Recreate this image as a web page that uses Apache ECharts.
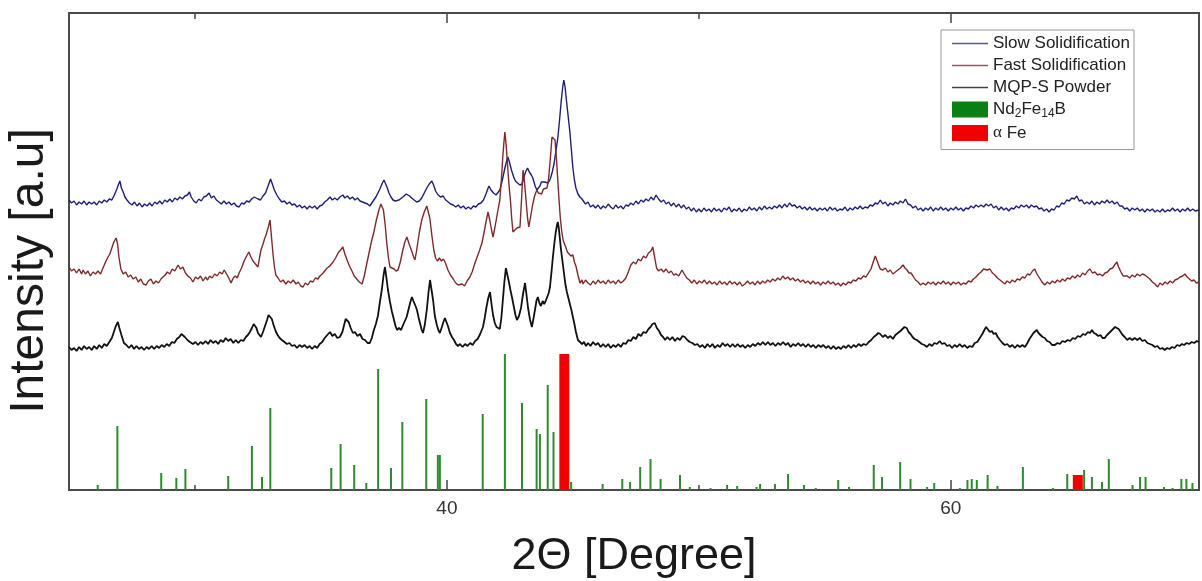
<!DOCTYPE html>
<html>
<head>
<meta charset="utf-8">
<script src="https://cdn.jsdelivr.net/npm/echarts@6/dist/echarts.min.js"></script>
<style>
html,body{margin:0;padding:0;background:#fff;}
#chart{width:1202px;height:581px;}
</style>
</head>
<body>
<div id="chart"></div>
<script>
// ---- axis range and tick values (2θ, degree) ----
const xMin = 25, xMax = 69.85;
const yMin = 0, yMax = 477;
const majorTicks = [40, 60];
const minorTicks = [30, 50];

// ---- series names ----
const seriesNames = ['Slow Solidification', 'Fast Solidification', 'MQP-S Powder', 'Nd2Fe14B', 'α Fe'];

// ---- Slow Solidification (offset pattern, a.u.) ----
const slowData = [
[25.0,290],[25.1,287],[25.2,289],[25.3,285],[25.4,288],[25.5,286],[25.6,289],[25.7,285],[25.8,288],[25.9,286],[26.0,288],[26.1,285],[26.2,289],[26.3,287],[26.4,290],[26.5,288],[26.6,291],[26.7,290],[26.8,295],[26.9,301],[26.97,306],[27.02,309],[27.08,302],[27.15,298],[27.22,293],[27.3,290],[27.4,287],[27.5,285],[27.6,288],[27.7,284],[27.8,287],[27.9,283],[28.0,286],[28.1,284],[28.2,287],[28.3,284],[28.4,288],[28.5,286],[28.6,289],[28.7,286],[28.8,290],[28.9,288],[29.0,291],[29.1,288],[29.2,292],[29.3,290],[29.4,293],[29.5,291],[29.6,294],[29.7,295],[29.78,298],[29.85,293],[29.95,289],[30.05,287],[30.15,291],[30.25,289],[30.35,293],[30.45,294],[30.56,297],[30.65,292],[30.75,294],[30.85,290],[30.95,288],[31.05,286],[31.15,289],[31.25,286],[31.35,288],[31.45,285],[31.55,287],[31.65,284],[31.75,283],[31.85,287],[31.95,286],[32.05,289],[32.15,288],[32.25,291],[32.35,293],[32.42,295],[32.5,291],[32.6,290],[32.7,294],[32.8,297],[32.9,304],[33.0,311],[33.07,306],[33.15,300],[33.25,295],[33.35,291],[33.45,288],[33.55,289],[33.65,286],[33.75,288],[33.85,285],[33.95,286],[34.05,283],[34.15,285],[34.25,282],[34.35,284],[34.45,281],[34.55,284],[34.65,282],[34.75,284],[34.85,281],[34.95,284],[35.05,285],[35.15,288],[35.25,290],[35.36,293],[35.45,290],[35.55,292],[35.65,290],[35.75,293],[35.87,295],[35.95,292],[36.05,294],[36.15,291],[36.25,293],[36.35,290],[36.45,292],[36.55,289],[36.65,288],[36.75,287],[36.85,286],[36.94,284],[37.02,287],[37.1,290],[37.18,293],[37.26,297],[37.34,301],[37.42,306],[37.5,310],[37.56,309],[37.62,303],[37.7,297],[37.78,293],[37.86,290],[37.95,289],[38.02,287],[38.1,290],[38.2,292],[38.3,294],[38.38,296],[38.45,298],[38.52,294],[38.6,292],[38.7,290],[38.8,288],[38.9,289],[39.0,292],[39.1,297],[39.2,302],[39.3,306],[39.4,309],[39.47,305],[39.55,299],[39.65,295],[39.75,293],[39.85,294],[39.95,290],[40.05,288],[40.15,286],[40.25,285],[40.35,283],[40.45,285],[40.55,282],[40.65,284],[40.75,281],[40.85,283],[40.95,281],[41.05,284],[41.15,283],[41.25,286],[41.35,287],[41.45,290],[41.55,296],[41.62,301],[41.67,304],[41.75,300],[41.85,297],[41.95,295],[42.02,294],[42.1,300],[42.2,310],[42.3,322],[42.38,330],[42.42,333],[42.48,328],[42.56,320],[42.65,313],[42.72,309],[42.8,307],[42.9,305],[42.98,306],[43.05,312],[43.12,318],[43.2,322],[43.27,318],[43.35,315],[43.41,312],[43.5,304],[43.57,300],[43.63,302],[43.69,304],[43.75,308],[43.81,310],[43.88,308],[43.95,306],[44.02,307],[44.1,311],[44.18,318],[44.25,326],[44.32,338],[44.40,352],[44.47,370],[44.54,390],[44.6,404],[44.64,410],[44.69,403],[44.75,388],[44.82,372],[44.88,358],[44.94,340],[45.0,322],[45.06,310],[45.12,302],[45.2,296],[45.28,293],[45.36,291],
[45.4,290],[45.5,286],[45.6,288],[45.7,283],[45.8,285],[45.9,282],[46.0,285],[46.1,281],[46.2,284],[46.3,282],[46.4,286],[46.5,283],[46.6,281],[46.7,285],[46.8,282],[46.9,284],[47.0,281],[47.1,285],[47.2,284],[47.3,287],[47.4,285],[47.5,289],[47.6,286],[47.7,290],[47.8,288],[47.9,291],[48.0,289],[48.1,293],[48.2,290],[48.3,295],[48.4,291],[48.5,288],[48.6,290],[48.7,286],[48.8,288],[48.9,284],[49.0,287],[49.1,283],[49.2,286],[49.3,282],[49.4,285],[49.5,281],[49.6,283],[49.7,279],[49.8,282],[49.9,278],[50.0,281],[50.1,278],[50.2,282],[50.3,279],[50.4,281],[50.5,278],[50.6,282],[50.7,279],[50.8,281],[50.9,278],[51.0,282],[51.1,280],[51.2,283],[51.3,278],[51.4,281],[51.5,279],[51.6,282],[51.7,278],[51.8,281],[51.9,279],[52.0,283],[52.1,280],[52.2,282],[52.3,279],[52.4,283],[52.5,280],[52.6,284],[52.7,281],[52.8,283],[52.9,281],[53.0,284],[53.1,282],[53.2,285],[53.3,282],[53.4,286],[53.5,283],[53.6,287],[53.7,284],[53.8,285],[53.9,282],[54.0,284],[54.1,281],[54.2,283],[54.3,280],[54.4,283],[54.5,280],[54.6,282],[54.7,279],[54.8,282],[54.9,280],[55.0,282],[55.1,279],[55.2,283],[55.3,280],[55.4,282],[55.5,279],[55.6,281],[55.7,280],[55.8,283],[55.9,279],[56.0,282],[56.1,280],[56.2,283],[56.3,281],[56.4,284],[56.5,281],[56.6,283],[56.7,282],[56.8,285],[56.9,284],[57.0,287],[57.1,286],[57.2,290],[57.3,286],[57.4,288],[57.5,284],[57.6,287],[57.7,285],[57.8,288],[57.9,286],[58.0,289],[58.1,287],[58.2,291],[58.3,286],[58.4,285],[58.5,282],[58.6,284],[58.7,280],[58.8,282],[58.9,279],[59.0,282],[59.1,280],[59.2,283],[59.3,279],[59.4,282],[59.5,280],[59.6,283],[59.7,280],[59.8,282],[59.9,279],[60.0,282],[60.1,280],[60.2,283],[60.3,280],[60.4,282],[60.5,279],[60.6,282],[60.7,281],[60.8,284],[60.9,282],[61.0,285],[61.1,283],[61.2,285],[61.3,283],[61.4,286],[61.5,284],[61.6,286],[61.7,282],[61.8,284],[61.9,280],[62.0,283],[62.1,280],[62.2,282],[62.3,279],[62.4,282],[62.5,281],[62.6,284],[62.7,282],[62.8,285],[62.9,283],[63.0,285],[63.1,282],[63.2,285],[63.3,283],[63.4,284],[63.5,281],[63.6,282],[63.7,279],[63.8,281],[63.9,278],[64.0,281],[64.1,280],[64.2,284],[64.3,283],[64.4,287],[64.5,286],[64.6,290],[64.7,289],[64.8,292],[64.9,291],[65.0,294],[65.1,289],[65.2,290],[65.3,286],[65.4,288],[65.5,286],[65.6,289],[65.7,285],[65.8,288],[65.9,286],[66.0,289],[66.1,287],[66.2,290],[66.3,287],[66.4,289],[66.5,286],[66.6,288],[66.7,284],[66.8,284],[66.9,281],[67.0,282],[67.1,279],[67.2,282],[67.3,280],[67.4,282],[67.5,279],[67.6,281],[67.7,278],[67.8,281],[67.9,279],[68.0,281],[68.1,278],[68.2,280],[68.3,278],[68.4,281],[68.5,278],[68.6,280],[68.7,279],[68.8,282],[68.9,279],[69.0,281],[69.1,278],[69.2,281],[69.3,279],[69.4,282],[69.5,279],[69.6,281],[69.7,279],[69.85,280]
];

// ---- Fast Solidification ----
const fastData = [
[25.0,223],[25.1,219],[25.2,221],[25.3,217],[25.4,221],[25.5,216],[25.56,220],[25.65,216],[25.75,219],[25.85,214],[25.95,218],[26.05,216],[26.15,219],[26.25,216],[26.35,222],[26.45,228],[26.55,233],[26.62,236],[26.7,242],[26.78,248],[26.87,252],[26.93,246],[26.98,233],[27.06,221],[27.15,216],[27.25,218],[27.35,213],[27.45,215],[27.54,211],[27.65,213],[27.75,208],[27.85,211],[27.95,206],[28.06,205],[28.15,209],[28.25,211],[28.35,206],[28.45,209],[28.55,207],[28.65,211],[28.73,213],[28.82,215],[28.9,218],[29.0,216],[29.1,221],[29.2,219],[29.33,225],[29.42,221],[29.52,223],[29.62,217],[29.72,214],[29.82,212],[29.92,208],[30.02,213],[30.12,211],[30.22,214],[30.32,209],[30.42,213],[30.5,210],[30.58,214],[30.68,212],[30.78,216],[30.88,214],[30.98,218],[31.08,216],[31.16,220],[31.23,221],[31.3,214],[31.38,210],[31.43,207],[31.52,212],[31.6,214],[31.68,212],[31.75,217],[31.85,222],[31.95,229],[32.05,234],[32.14,238],[32.22,233],[32.3,229],[32.4,226],[32.5,223],[32.56,232],[32.62,240],[32.7,246],[32.76,251],[32.82,255],[32.9,262],[32.98,270],[33.04,252],[33.1,235],[33.16,222],[33.21,215],[33.3,212],[33.4,208],[33.5,210],[33.61,206],[33.7,209],[33.8,207],[33.9,210],[34.01,206],[34.1,208],[34.2,204],[34.29,203],[34.38,207],[34.48,205],[34.58,209],[34.68,208],[34.78,212],[34.88,211],[34.96,214],[35.05,216],[35.15,219],[35.25,222],[35.35,224],[35.48,228],[35.58,232],[35.68,237],[35.78,240],[35.87,243],[35.95,236],[36.05,229],[36.15,223],[36.23,219],[36.32,214],[36.42,211],[36.52,208],[36.63,206],[36.72,214],[36.8,224],[36.9,236],[37.0,248],[37.1,258],[37.2,270],[37.3,280],[37.38,286],[37.42,288],[37.48,280],[37.55,265],[37.62,245],[37.68,232],[37.74,223],[37.82,222],[37.9,221],[37.98,219],[38.06,220],[38.15,228],[38.25,240],[38.33,248],[38.41,253],[38.5,246],[38.6,239],[38.68,233],[38.73,230],[38.8,240],[38.9,257],[39.0,270],[39.1,278],[39.2,284],[39.25,285],[39.32,272],[39.4,255],[39.48,240],[39.55,232],[39.62,229],[39.7,232],[39.78,229],[39.86,231],[39.94,227],[40.04,220],[40.14,215],[40.25,211],[40.35,207],[40.45,205],[40.52,203],[40.6,206],[40.7,204],[40.8,209],[40.91,213],[41.0,218],[41.1,226],[41.2,233],[41.3,240],[41.39,247],[41.47,257],[41.55,268],[41.63,278],[41.7,270],[41.77,260],[41.83,253],[41.9,262],[41.97,272],[42.04,282],[42.1,290],[42.16,310],[42.22,334],[42.27,350],[42.30,358],[42.35,345],[42.42,320],[42.47,303],[42.52,290],[42.57,272],[42.62,258],[42.7,260],[42.78,262],[42.85,262],[42.9,263],[42.96,290],[43.02,320],[43.07,310],[43.14,290],[43.2,272],[43.25,263],[43.32,273],[43.4,285],[43.48,294],[43.57,300],[43.63,297],[43.69,299],[43.76,296],[43.83,301],[43.9,299],[43.97,302],[44.03,310],[44.1,330],[44.17,353],[44.23,355],[44.29,350],[44.35,330],[44.40,310],[44.45,290],[44.5,272],[44.56,258],[44.62,249],[44.7,244],[44.78,238],[44.85,240],[44.92,234],[45.0,235],[45.06,228],[45.12,224],[45.2,215],[45.28,207],[45.36,210],
[45.4,206],[45.5,210],[45.6,207],[45.7,205],[45.8,209],[45.9,206],[46.0,210],[46.1,207],[46.2,209],[46.3,206],[46.4,210],[46.5,207],[46.6,209],[46.7,206],[46.8,210],[46.9,207],[47.0,209],[47.1,212],[47.2,218],[47.3,225],[47.4,228],[47.5,226],[47.6,231],[47.7,229],[47.8,234],[47.9,232],[48.0,237],[48.1,239],[48.17,243],[48.25,232],[48.32,222],[48.4,219],[48.5,221],[48.6,218],[48.7,221],[48.8,217],[48.9,219],[49.0,215],[49.1,216],[49.2,214],[49.33,220],[49.42,216],[49.52,212],[49.62,210],[49.72,207],[49.82,210],[49.92,206],[50.02,209],[50.12,207],[50.22,210],[50.32,206],[50.42,209],[50.52,206],[50.62,208],[50.72,205],[50.82,209],[50.92,206],[51.02,208],[51.12,205],[51.22,209],[51.32,206],[51.42,208],[51.52,205],[51.62,208],[51.72,204],[51.83,206],[51.93,209],[52.03,206],[52.13,208],[52.23,205],[52.33,209],[52.43,206],[52.53,209],[52.63,207],[52.73,210],[52.83,208],[52.93,211],[53.03,209],[53.13,212],[53.23,210],[53.33,214],[53.43,211],[53.53,213],[53.63,210],[53.73,212],[53.83,209],[53.93,211],[54.03,208],[54.13,210],[54.23,207],[54.33,209],[54.43,206],[54.53,209],[54.63,206],[54.73,208],[54.83,205],[54.93,208],[55.03,206],[55.13,209],[55.23,206],[55.33,208],[55.43,205],[55.53,207],[55.63,204],[55.73,207],[55.83,205],[55.93,208],[56.03,207],[56.13,210],[56.23,209],[56.33,212],[56.43,211],[56.53,214],[56.63,213],[56.73,217],[56.83,221],[56.92,228],[57.0,234],[57.06,236],[57.12,226],[57.2,221],[57.3,220],[57.4,222],[57.5,218],[57.6,220],[57.7,216],[57.8,218],[57.9,220],[58.0,222],[58.1,225],[58.18,222],[58.26,220],[58.34,217],[58.42,217],[58.5,214],[58.6,210],[58.7,208],[58.8,205],[58.9,207],[59.0,205],[59.1,208],[59.2,206],[59.3,208],[59.4,205],[59.5,208],[59.6,206],[59.7,209],[59.8,206],[59.9,208],[60.0,205],[60.1,208],[60.2,206],[60.3,208],[60.4,205],[60.5,207],[60.6,206],[60.7,209],[60.8,208],[60.9,211],[61.0,213],[61.1,216],[61.2,218],[61.3,221],[61.37,223],[61.45,220],[61.55,221],[61.65,217],[61.75,215],[61.85,212],[61.95,210],[62.05,208],[62.14,206],[62.24,209],[62.34,207],[62.44,210],[62.54,208],[62.64,211],[62.74,210],[62.84,213],[62.94,212],[63.04,216],[63.14,215],[63.24,219],[63.33,221],[63.42,216],[63.52,212],[63.62,208],[63.73,205],[63.83,208],[63.93,206],[64.03,209],[64.13,207],[64.23,210],[64.33,208],[64.43,211],[64.53,209],[64.63,212],[64.73,211],[64.83,214],[64.93,212],[65.03,215],[65.13,213],[65.23,217],[65.33,215],[65.43,219],[65.52,221],[65.62,217],[65.72,218],[65.82,215],[65.92,216],[66.02,214],[66.12,217],[66.22,218],[66.32,221],[66.42,222],[66.5,225],[66.59,228],[66.66,223],[66.75,218],[66.84,214],[66.9,212],[67.0,214],[67.1,212],[67.2,215],[67.3,213],[67.4,216],[67.5,214],[67.6,216],[67.7,215],[67.8,213],[67.9,211],[68.0,208],[68.1,206],[68.21,203],[68.3,207],[68.4,205],[68.5,208],[68.6,206],[68.7,209],[68.8,207],[68.9,210],[69.0,211],[69.1,213],[69.2,214],[69.29,216],[69.38,213],[69.47,211],[69.56,209],[69.65,210],[69.75,207],[69.85,208]
];

// ---- MQP-S Powder ----
const mqpData = [
[25.0,143],[25.1,140],[25.2,142],[25.3,139],[25.4,143],[25.5,140],[25.6,144],[25.7,141],[25.8,143],[25.9,140],[26.0,144],[26.1,141],[26.2,145],[26.3,142],[26.4,146],[26.5,144],[26.6,148],[26.7,152],[26.78,158],[26.86,164],[26.94,168],[27.0,162],[27.08,155],[27.18,147],[27.28,145],[27.38,142],[27.48,145],[27.58,141],[27.68,144],[27.78,141],[27.88,143],[27.98,140],[28.08,143],[28.18,141],[28.28,144],[28.38,141],[28.48,144],[28.58,142],[28.68,145],[28.78,143],[28.88,146],[28.98,144],[29.08,148],[29.18,147],[29.28,151],[29.38,153],[29.46,156],[29.52,157],[29.6,153],[29.7,150],[29.8,148],[29.92,146],[30.02,148],[30.12,145],[30.22,148],[30.32,146],[30.42,149],[30.52,146],[30.62,150],[30.72,147],[30.82,149],[30.92,146],[31.02,150],[31.12,148],[31.22,152],[31.32,149],[31.42,151],[31.52,147],[31.62,150],[31.72,147],[31.82,150],[31.92,149],[32.02,153],[32.1,155],[32.18,158],[32.26,162],[32.33,166],[32.38,167],[32.44,162],[32.5,157],[32.56,155],[32.62,153],[32.7,158],[32.78,164],[32.86,170],[32.92,175],[32.98,177],[33.05,171],[33.12,165],[33.2,159],[33.28,155],[33.36,152],[33.45,150],[33.55,148],[33.65,146],[33.75,147],[33.85,144],[33.95,145],[34.05,142],[34.15,145],[34.25,143],[34.35,145],[34.45,142],[34.55,144],[34.65,141],[34.75,144],[34.85,142],[34.95,146],[35.05,148],[35.15,152],[35.25,155],[35.36,158],[35.45,154],[35.55,156],[35.65,152],[35.75,153],[35.85,158],[35.92,165],[35.98,171],[36.03,173],[36.1,168],[36.18,162],[36.27,157],[36.35,158],[36.45,154],[36.55,156],[36.65,151],[36.75,150],[36.85,147],[36.94,147],[37.02,152],[37.1,160],[37.18,166],[37.26,174],[37.34,188],[37.42,201],[37.48,214],[37.54,223],[37.6,212],[37.66,200],[37.74,188],[37.82,178],[37.9,170],[37.96,164],[38.02,160],[38.1,162],[38.18,160],[38.26,165],[38.33,167],[38.4,173],[38.48,181],[38.55,188],[38.61,193],[38.67,189],[38.72,186],[38.77,183],[38.81,180],[38.88,172],[38.95,165],[39.0,160],[39.05,157],[39.12,165],[39.2,180],[39.27,198],[39.33,210],[39.39,200],[39.45,190],[39.52,174],[39.6,165],[39.66,160],[39.72,157],[39.8,163],[39.86,168],[39.92,172],[39.98,168],[40.04,164],[40.12,157],[40.2,153],[40.28,150],[40.36,146],[40.44,144],[40.52,146],[40.62,143],[40.72,146],[40.82,144],[40.92,147],[41.02,145],[41.12,149],[41.22,151],[41.32,156],[41.43,163],[41.5,172],[41.57,183],[41.64,192],[41.71,198],[41.77,186],[41.83,175],[41.9,167],[41.97,163],[42.04,162],[42.1,161],[42.16,172],[42.22,190],[42.28,208],[42.34,222],[42.4,215],[42.46,208],[42.52,200],[42.58,193],[42.65,184],[42.72,175],[42.78,170],[42.86,174],[42.94,182],[43.02,196],[43.1,207],[43.16,195],[43.22,182],[43.3,170],[43.37,163],[43.44,172],[43.5,181],[43.56,190],[43.61,193],[43.67,187],[43.73,184],[43.8,189],[43.86,186],[43.92,189],[43.98,193],[44.04,197],[44.09,203],[44.15,218],[44.21,234],[44.27,248],[44.32,258],[44.37,265],[44.40,268],[44.44,262],[44.48,252],[44.53,240],[44.58,230],[44.64,218],[44.7,206],[44.76,198],[44.82,192],[44.88,186],[44.94,180],[45.0,173],[45.06,166],[45.12,158],[45.2,150],[45.28,148],[45.36,146],[45.44,148],[45.52,144],[45.6,147],[45.7,144],[45.8,148],[45.9,145],[46.0,147],[46.1,143],[46.2,146],[46.3,143],[46.4,146],[46.5,142],[46.6,145],[46.7,143],[46.8,146],[46.9,143],[47.0,147],[47.1,146],[47.2,150],[47.3,149],[47.4,153],[47.5,151],[47.6,156],[47.7,154],[47.8,158],[47.9,157],[48.0,161],[48.08,163],[48.16,166],[48.25,167],[48.33,162],[48.42,159],[48.5,155],[48.58,153],[48.66,150],[48.75,153],[48.85,150],[48.95,153],[49.05,149],[49.15,152],[49.25,150],[49.35,154],[49.44,153],[49.54,150],[49.64,148],[49.74,147],[49.84,145],[49.94,146],[50.04,143],[50.14,145],[50.24,142],[50.34,146],[50.44,143],[50.54,146],[50.64,142],[50.74,145],[50.84,143],[50.94,147],[51.04,144],[51.14,146],[51.24,143],[51.34,146],[51.44,143],[51.54,146],[51.64,143],[51.74,145],[51.84,142],[51.94,145],[52.04,143],[52.14,146],[52.24,144],[52.34,147],[52.44,145],[52.54,148],[52.64,145],[52.74,148],[52.84,145],[52.94,147],[53.04,144],[53.14,147],[53.24,145],[53.34,148],[53.44,145],[53.54,147],[53.64,143],[53.74,146],[53.84,144],[53.94,147],[54.04,144],[54.14,146],[54.24,143],[54.34,146],[54.44,143],[54.54,145],[54.64,142],[54.74,145],[54.84,143],[54.94,145],[55.04,142],[55.14,144],[55.24,141],[55.34,144],[55.44,141],[55.54,143],[55.64,141],[55.74,144],[55.84,142],[55.94,145],[56.04,142],[56.14,145],[56.24,143],[56.34,146],[56.44,144],[56.54,146],[56.64,145],[56.74,148],[56.84,150],[56.94,153],[57.04,155],[57.12,157],[57.2,156],[57.3,153],[57.4,155],[57.5,152],[57.6,154],[57.7,151],[57.8,155],[57.9,157],[58.0,159],[58.08,161],[58.16,163],[58.25,162],[58.32,158],[58.4,156],[58.48,153],[58.56,151],[58.65,150],[58.75,148],[58.85,146],[58.95,145],[59.05,143],[59.15,146],[59.25,144],[59.35,147],[59.45,146],[59.56,149],[59.65,146],[59.75,147],[59.85,144],[59.95,145],[60.05,142],[60.15,145],[60.25,143],[60.35,146],[60.45,143],[60.55,145],[60.65,142],[60.75,144],[60.85,143],[60.95,147],[61.05,148],[61.15,152],[61.25,156],[61.33,160],[61.4,163],[61.47,161],[61.55,158],[61.63,159],[61.7,156],[61.78,157],[61.86,153],[61.95,150],[62.05,147],[62.14,145],[62.24,146],[62.34,143],[62.44,145],[62.54,142],[62.64,145],[62.74,143],[62.84,145],[62.94,143],[63.04,147],[63.12,151],[63.2,154],[63.28,157],[63.35,159],[63.41,160],[63.48,157],[63.56,155],[63.64,153],[63.73,152],[63.82,149],[63.92,148],[64.02,145],[64.13,145],[64.23,147],[64.33,146],[64.43,149],[64.53,148],[64.64,150],[64.74,149],[64.84,152],[64.94,151],[65.04,154],[65.14,153],[65.24,156],[65.34,155],[65.44,158],[65.52,157],[65.6,160],[65.68,157],[65.76,156],[65.85,154],[65.94,155],[66.02,152],[66.11,152],[66.2,155],[66.28,157],[66.36,159],[66.44,161],[66.52,163],[66.59,165],[66.66,161],[66.74,158],[66.82,155],[66.9,153],[67.0,150],[67.1,152],[67.2,150],[67.3,152],[67.4,150],[67.5,152],[67.6,149],[67.7,150],[67.8,147],[67.9,146],[68.0,145],[68.1,143],[68.2,144],[68.3,141],[68.4,142],[68.49,140],[68.58,142],[68.68,141],[68.78,143],[68.88,142],[68.98,145],[69.08,144],[69.17,146],[69.26,145],[69.36,147],[69.46,146],[69.56,148],[69.66,147],[69.76,149],[69.85,148]
];

// ---- Nd2Fe14B reference pattern: [2θ, relative intensity] ----
const ndSticks = [
[26.14,5],[26.92,64],[28.66,17],[29.26,12],[29.62,21],[31.32,14],[32.26,44],[32.66,13],[32.99,82],[35.41,22],
[35.78,46],[36.32,25],[36.80,7],[37.27,121],[37.78,22],[38.23,68],[39.18,91],[39.64,35],[39.72,35],[41.42,76],
[42.30,136],[42.98,87],[43.56,61],[43.69,56],[44.00,105],[44.23,58],[44.93,8],[46.18,6],[46.96,11],[47.27,8],
[47.67,23],[48.08,31],[48.48,11],[49.25,15],[49.64,3],[50.46,2],[51.12,5],[51.52,4],[52.29,3],[52.43,6],
[53.02,6],[53.54,16],[54.17,5],[54.64,2],[55.53,10],[55.96,3],[56.94,25],[57.27,13],[57.99,28],[58.40,11],
[59.06,3],[59.34,7],[60.36,2],[60.66,10],[60.83,11],[61.03,10],[61.46,15],[61.85,4],[62.86,23],[64.06,2],
[64.62,16],[65.29,20],[65.60,13],[66.00,8],[66.27,31],[67.21,5],[67.51,13],[67.73,13],[68.46,3],[68.80,2],
[69.15,11],[69.35,11],[69.59,7]
];

// ---- alpha-Fe reference pattern ----
const feSticks = [[44.66,136],[65.04,15]];

const FONT = '"Liberation Sans", Arial, sans-serif';
const LINE_ICON = 'path://M0,0L40,0L40,1.6L0,1.6Z';

function stickRenderer(widthPx) {
  return function (params, api) {
    const base = api.coord([api.value(0), 0]);
    const top = api.coord([api.value(0), api.value(1)]);
    return {
      type: 'rect',
      shape: { x: base[0] - widthPx / 2, y: top[1], width: widthPx, height: base[1] - top[1] },
      style: { fill: api.visual('color') }
    };
  };
}

const chart = echarts.init(document.getElementById('chart'), null, { renderer: 'canvas' });

const gridRect = { left: 69, right: 3, top: 13, bottom: 91 };

function xAx(gridIndex, position, ticks, len, showLabels) {
  return {
    type: 'value', gridIndex: gridIndex, position: position, min: xMin, max: xMax,
    axisLine: { show: false },
    splitLine: { show: false },
    axisTick: { show: true, inside: true, length: len, customValues: ticks, lineStyle: { color: '#444', width: 1.5 } },
    axisLabel: showLabels ? { show: true, customValues: ticks, fontSize: 19, color: '#333', fontFamily: FONT, margin: 9 } : { show: false }
  };
}

const option = {
  animation: false,
  backgroundColor: '#fff',
  grid: [
    Object.assign({ show: true, borderColor: '#4a4a4a', borderWidth: 2, backgroundColor: 'transparent' }, gridRect),
    Object.assign({ show: false }, gridRect)
  ],
  xAxis: [
    xAx(0, 'bottom', majorTicks, 10, true),
    xAx(0, 'top', majorTicks, 10, false),
    xAx(1, 'bottom', minorTicks, 5, false),
    xAx(1, 'top', minorTicks, 6, false)
  ],
  yAxis: [
    { type: 'value', gridIndex: 0, min: yMin, max: yMax, show: false },
    { type: 'value', gridIndex: 1, min: yMin, max: yMax, show: false }
  ],
  graphic: [
    { type: 'text', x: 30, y: 271, rotation: Math.PI / 2,
      style: { text: 'Intensity [a.u]', font: '48px ' + FONT, fill: '#1a1a1a', align: 'center', verticalAlign: 'middle', textAlign: 'center', textVerticalAlign: 'middle' } },
    { type: 'text', x: 634, y: 557,
      style: { text: '2Θ [Degree]', font: '45px ' + FONT, fill: '#1a1a1a', align: 'center', verticalAlign: 'middle', textAlign: 'center', textVerticalAlign: 'middle' } }
  ],
  legend: {
    orient: 'vertical', left: 941, top: 30,
    padding: [5, 4, 8, 11], itemGap: 5, itemWidth: 36, itemHeight: 16,
    borderColor: '#999', borderWidth: 1, backgroundColor: '#fff',
    textStyle: {
      fontFamily: FONT, fontSize: 17, color: '#222',
      rich: {
        n: { fontFamily: FONT, fontSize: 17, color: '#222' },
        s: { fontFamily: FONT, fontSize: 12, color: '#222', padding: [8, 0, 0, 0] },
        g: { fontFamily: '"Liberation Serif", serif', fontSize: 17, color: '#222' }
      }
    },
    formatter: function (name) {
      if (name === 'Nd2Fe14B') return '{n|Nd}{s|2}{n|Fe}{s|14}{n|B}';
      if (name === 'α Fe') return '{g|α}{n| Fe}';
      return '{n|' + name + '}';
    },
    data: [
      { name: seriesNames[0], icon: LINE_ICON, itemStyle: { color: '#5a5a86' } },
      { name: seriesNames[1], icon: LINE_ICON, itemStyle: { color: '#866060' } },
      { name: seriesNames[2], icon: LINE_ICON, itemStyle: { color: '#444' } },
      { name: seriesNames[3], icon: 'rect', itemStyle: { color: '#0a7f14' } },
      { name: seriesNames[4], icon: 'rect', itemStyle: { color: '#f00000' } }
    ]
  },
  series: [
    { name: seriesNames[0], type: 'line', xAxisIndex: 0, yAxisIndex: 0, data: slowData, symbol: 'none',
      lineStyle: { color: '#1e1e78', width: 1.4 }, itemStyle: { color: '#1e1e78' } },
    { name: seriesNames[1], type: 'line', xAxisIndex: 0, yAxisIndex: 0, data: fastData, symbol: 'none',
      lineStyle: { color: '#7e2a2a', width: 1.4 }, itemStyle: { color: '#7e2a2a' } },
    { name: seriesNames[2], type: 'line', xAxisIndex: 0, yAxisIndex: 0, data: mqpData, symbol: 'none',
      lineStyle: { color: '#111', width: 1.8 }, itemStyle: { color: '#111' } },
    { name: seriesNames[3], type: 'custom', xAxisIndex: 0, yAxisIndex: 0, data: ndSticks,
      encode: { x: 0, y: 1 }, renderItem: stickRenderer(2), itemStyle: { color: '#2f8a2f' }, clip: true },
    { name: seriesNames[4], type: 'custom', xAxisIndex: 0, yAxisIndex: 0, data: feSticks,
      encode: { x: 0, y: 1 }, renderItem: stickRenderer(10), itemStyle: { color: '#f00000' }, clip: true }
  ]
};
chart.setOption(option);
</script>
</body>
</html>
